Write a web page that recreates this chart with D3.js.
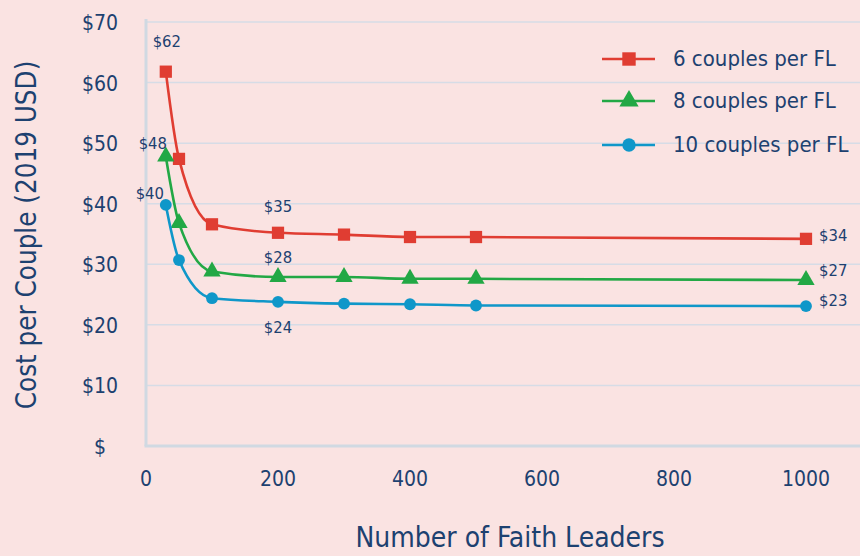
<!DOCTYPE html>
<html>
<head>
<meta charset="utf-8">
<script src="https://cdn.jsdelivr.net/npm/d3@7"></script>
<style>
  html, body { margin: 0; padding: 0; background: #fae3e2; }
  svg { display: block; }
  text { font-family: Tahoma, "DejaVu Sans Condensed", "DejaVu Sans", sans-serif; fill: #1d4170; }
</style>
</head>
<body>
<div id="chart"></div>
<script>
// data
var leaders = [30, 50, 100, 200, 300, 400, 500, 1000];
var seriesNames = ["6 couples per FL", "8 couples per FL", "10 couples per FL"];
var cost6 = [61.8, 47.4, 36.6, 35.2, 34.9, 34.5, 34.5, 34.2];
var cost8 = [47.8, 36.8, 28.8, 27.9, 27.9, 27.6, 27.6, 27.4];
var cost10 = [39.8, 30.7, 24.4, 23.8, 23.5, 23.4, 23.2, 23.1];
var yTicks = [0, 10, 20, 30, 40, 50, 60, 70];
var xTicks = [0, 200, 400, 600, 800, 1000];
// point labels: [series index, point index, text]
var pointLabels = [
  [0, 0, "$62"], [1, 0, "$48"], [2, 0, "$40"],
  [0, 3, "$35"], [1, 3, "$28"], [2, 3, "$24"],
  [0, 7, "$34"], [1, 7, "$27"], [2, 7, "$23"]
];

var W = 860, H = 556;
var colors = ["#e03d32", "#22a845", "#0f97c9"];
var shapes = [d3.symbolSquare, d3.symbolTriangle, d3.symbolCircle];
var sizes = [150, 130, 110];

var x = d3.scaleLinear().domain([0, 1000]).range([146, 806]);
var y = d3.scaleLinear().domain([0, 70]).range([446, 22]);

var series = [cost6, cost8, cost10].map(function(vals, i) {
  return { name: seriesNames[i], values: vals.map(function(v, j) { return { x: leaders[j], y: v }; }) };
});

var svg = d3.select("#chart").append("svg").attr("width", W).attr("height", H);
svg.append("rect").attr("width", W).attr("height", H).attr("fill", "#fae3e2");

// gridlines
svg.append("g").selectAll("line")
  .data(yTicks.filter(function(d) { return d > 0; }))
  .enter().append("line")
  .attr("x1", x(0)).attr("x2", W)
  .attr("y1", function(d) { return y(d); }).attr("y2", function(d) { return y(d); })
  .attr("stroke", "#d6dce6").attr("stroke-width", 1.5);

// axis lines
svg.append("line").attr("x1", x(0)).attr("x2", x(0)).attr("y1", y(70) - 3).attr("y2", y(0))
  .attr("stroke", "#d0d9e2").attr("stroke-width", 3);
svg.append("line").attr("x1", x(0) - 1.5).attr("x2", W).attr("y1", y(0)).attr("y2", y(0))
  .attr("stroke", "#d0d9e2").attr("stroke-width", 3);

// y tick labels
svg.append("g").selectAll("text")
  .data(yTicks).enter().append("text")
  .attr("x", 100).attr("y", function(d) { return y(d) + 2; })
  .attr("text-anchor", "middle").attr("dominant-baseline", "middle")
  .style("font-size", "21px")
  .text(function(d) { return d === 0 ? "$" : "$" + d; });

// x tick labels
svg.append("g").selectAll("text")
  .data(xTicks).enter().append("text")
  .attr("x", function(d) { return x(d); }).attr("y", 486)
  .attr("text-anchor", "middle")
  .style("font-size", "21px")
  .text(function(d) { return d; });

// axis titles
svg.append("text").attr("x", 510).attr("y", 547).attr("text-anchor", "middle")
  .style("font-size", "28px").text("Number of Faith Leaders");
svg.append("text").attr("transform", "translate(36,235) rotate(-90)").attr("text-anchor", "middle")
  .style("font-size", "27.5px").text("Cost per Couple (2019 USD)");

// lines
var line = d3.line()
  .x(function(d) { return x(d.x); })
  .y(function(d) { return y(d.y); })
  .curve(d3.curveMonotoneX);

var g = svg.selectAll(".series").data(series).enter().append("g").attr("class", "series");
g.append("path")
  .attr("d", function(d) { return line(d.values); })
  .attr("fill", "none")
  .attr("stroke", function(d, i) { return colors[i]; })
  .attr("stroke-width", 2.6);

g.each(function(s, i) {
  d3.select(this).selectAll("path.pt").data(s.values).enter().append("path")
    .attr("class", "pt")
    .attr("transform", function(d) { return "translate(" + x(d.x) + "," + y(d.y) + ")"; })
    .attr("d", d3.symbol().type(shapes[i]).size(sizes[i]))
    .attr("fill", colors[i]);
});

// point labels
var labelOffsets = {
  "0-0": [1, -29, "middle"], "1-0": [-13, -12, "middle"], "2-0": [-16, -10, "middle"],
  "0-3": [0, -25, "middle"], "1-3": [0, -19, "middle"], "2-3": [0, 27, "middle"],
  "0-7": [13, -2, "start"], "1-7": [13, -9, "start"], "2-7": [13, -5, "start"]
};
svg.append("g").selectAll("text")
  .data(pointLabels).enter().append("text")
  .each(function(d) {
    var p = series[d[0]].values[d[1]];
    var o = labelOffsets[d[0] + "-" + d[1]];
    d3.select(this)
      .attr("x", x(p.x) + o[0]).attr("y", y(p.y) + o[1])
      .attr("text-anchor", o[2]).attr("dominant-baseline", "middle")
      .style("font-size", "16.5px")
      .text(d[2]);
  });

// legend
var legend = svg.append("g").selectAll("g")
  .data(series).enter().append("g")
  .attr("transform", function(d, i) { return "translate(602," + [59, 101, 145][i] + ")"; });
legend.append("line").attr("x1", 0).attr("x2", 53)
  .attr("stroke", function(d, i) { return colors[i]; }).attr("stroke-width", 2.6);
legend.append("path").attr("transform", "translate(27,0)")
  .attr("d", function(d, i) { return d3.symbol().type(shapes[i]).size(sizes[i] + 30)(); })
  .attr("fill", function(d, i) { return colors[i]; });
legend.append("text").attr("x", 71).attr("y", 1).attr("dominant-baseline", "middle")
  .style("font-size", "22px")
  .text(function(d) { return d.name; });
</script>
</body>
</html>
